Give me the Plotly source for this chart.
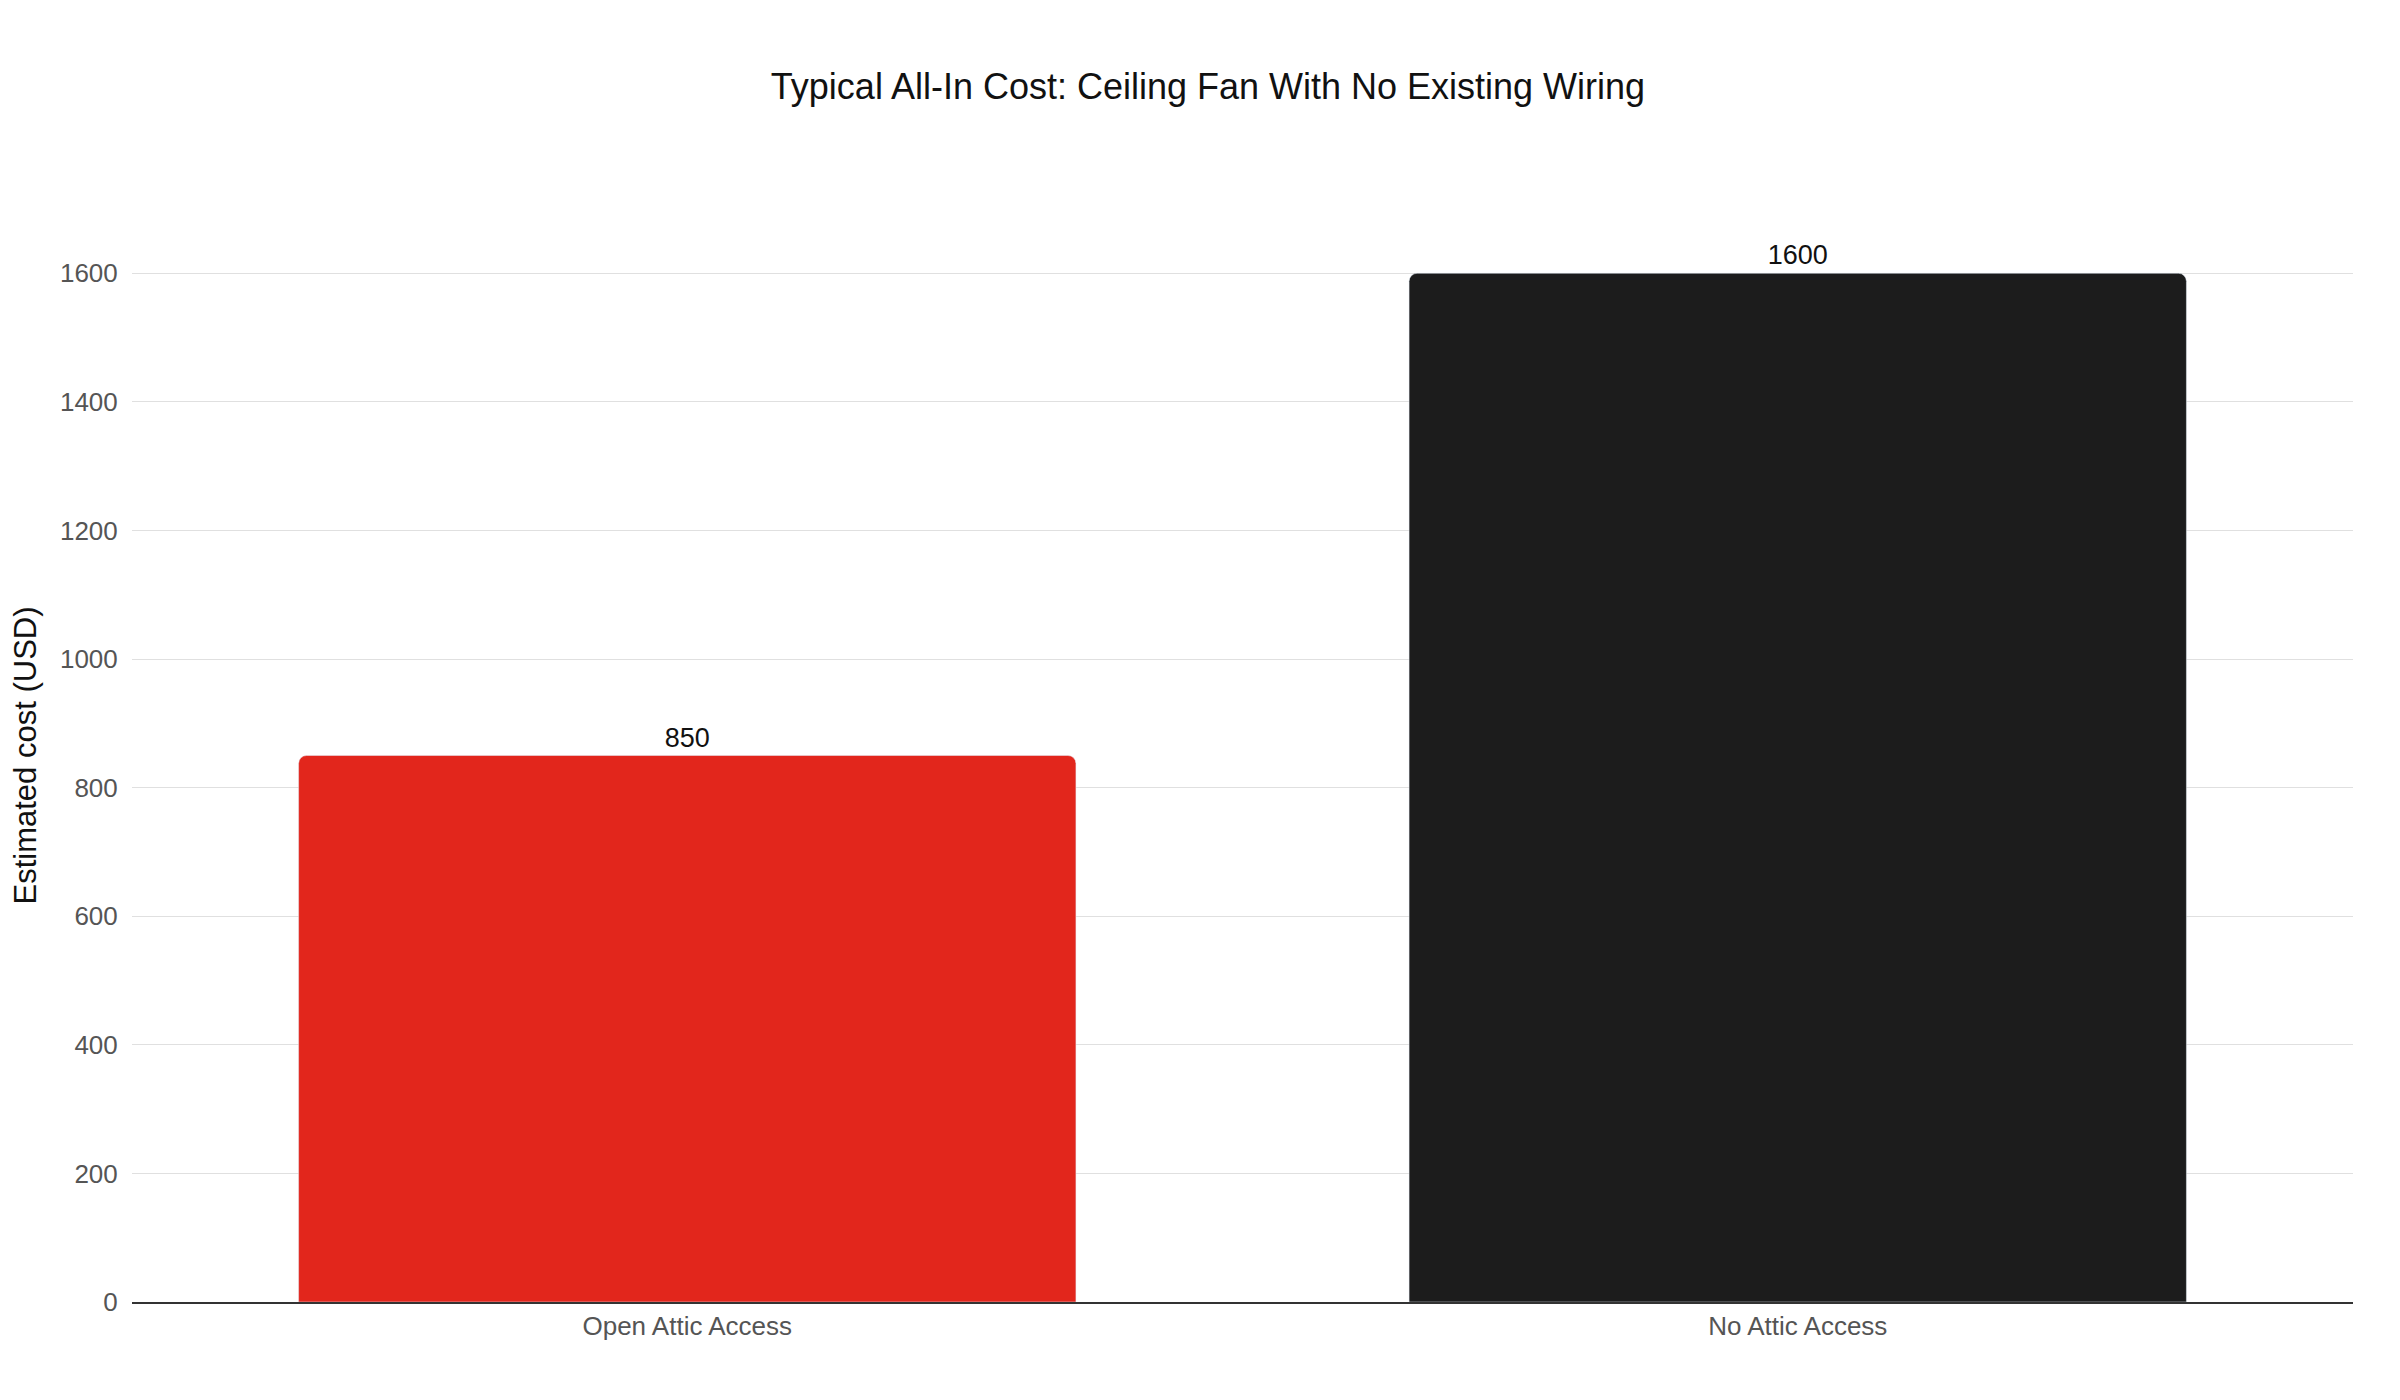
import plotly.graph_objects as go

categories = ["Open Attic Access", "No Attic Access"]
values = [850, 1600]
colors = ["#e2261c", "#1c1c1c"]

fig = go.Figure(go.Bar(
    x=categories, y=values, marker=dict(color=colors, cornerradius=8),
    text=[str(v) for v in values], textposition="outside",
    textfont=dict(size=27, color="#111"), cliponaxis=False))
fig.update_layout(
    width=2400, height=1400, plot_bgcolor="white", paper_bgcolor="white",
    font=dict(family="Helvetica, Arial, Liberation Sans, sans-serif"),
    title=dict(text="Typical All-In Cost: Ceiling Fan With No Existing Wiring",
               x=0.5, y=0.953, xanchor="center", font=dict(size=36, color="#111")),
    margin=dict(l=124, r=55, t=201, b=106),
    bargap=0.3, showlegend=False)
fig.update_yaxes(range=[0, 1700], dtick=200, gridcolor="#e0e0e0",
                 tickfont=dict(size=26, color="#555"), ticks="outside", ticklen=8, tickcolor="white",
                 title=dict(text="Estimated cost (USD)", font=dict(size=31, color="#111"), standoff=14),
                 zeroline=False)
fig.update_xaxes(showline=True, linecolor="#333", linewidth=1.5,
                 tickfont=dict(size=26, color="#555"))
fig.write_html("out.html")
